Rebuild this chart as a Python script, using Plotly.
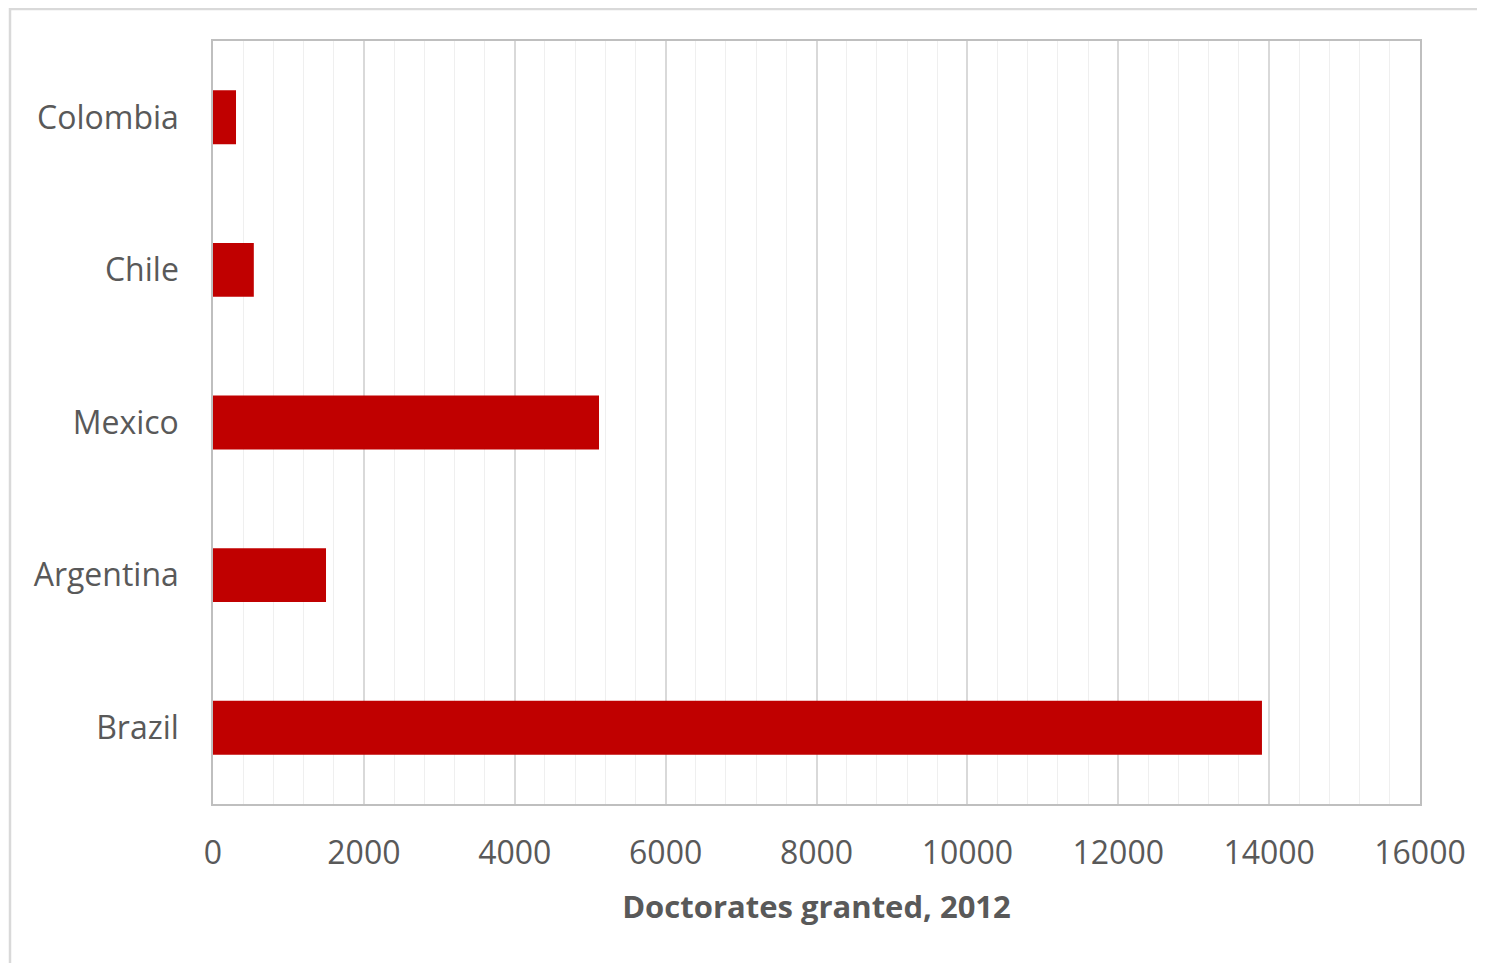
import plotly.graph_objects as go

countries = ["Brazil", "Argentina", "Mexico", "Chile", "Colombia"]
doctorates = [13905, 1498, 5117, 541, 305]
x_ticks = [0, 2000, 4000, 6000, 8000, 10000, 12000, 14000, 16000]

FONT = "Open Sans"
TXT = "#595959"

fig = go.Figure(go.Bar(
    x=doctorates, y=countries, orientation="h",
    marker=dict(color="#C00000", line=dict(width=0)),
    width=0.353,
))

fig.update_layout(
    width=1477, height=955,
    margin=dict(l=205, r=65, t=33, b=159),
    paper_bgcolor="white", plot_bgcolor="white",
    showlegend=False,
    font=dict(family=FONT, color=TXT, size=32),
    xaxis=dict(
        range=[0, 16000], tickvals=x_ticks, ticktext=[str(v) for v in x_ticks],
        showgrid=True, gridcolor="#D9D9D9", gridwidth=1.5,
        minor=dict(dtick=400, showgrid=True, gridcolor="#EFEFEF", gridwidth=1),
        showline=True, linecolor="#BFBFBF", linewidth=1.5, mirror=True,
        zeroline=False, ticks="", ticklabelstandoff=20,
        tickfont=dict(size=32, color=TXT, family=FONT),
        title=dict(text="<b>Doctorates granted, 2012</b>", standoff=24,
                   font=dict(size=31, color=TXT, family=FONT)),
    ),
    yaxis=dict(
        categoryorder="array", categoryarray=countries,
        showgrid=False, showline=True, linecolor="#BFBFBF", linewidth=1.5,
        mirror=True, ticks="", ticklabelstandoff=26,
        tickfont=dict(size=32, color=TXT, family=FONT),
    ),
    shapes=[dict(type="rect", xref="paper", yref="paper",
                 x0=(10-213)/1207, x1=(1495-213)/1207, y0=(804-975)/763, y1=(804-9)/763,
                 line=dict(color="#D9D9D9", width=2.5), fillcolor="rgba(0,0,0,0)",
                 layer="below")],
)

fig.write_html("out.html")
